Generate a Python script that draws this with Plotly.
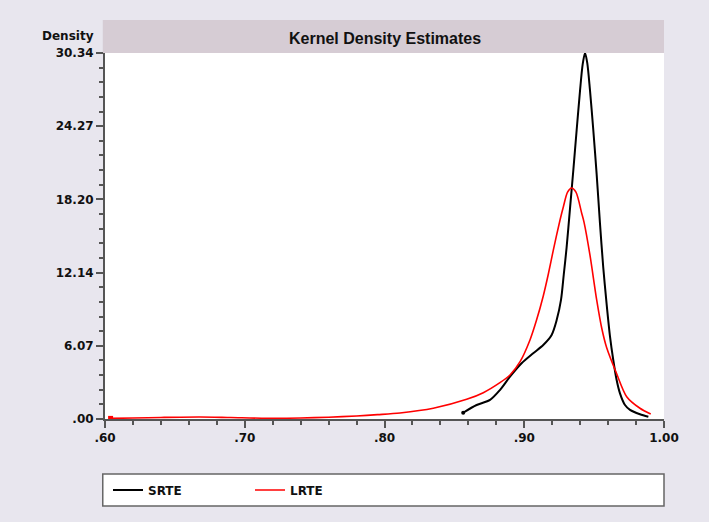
import plotly.graph_objects as go

# ---- data ----
srte_x = [0.8563, 0.8659, 0.8755, 0.8826, 0.8898, 0.8981, 0.9064, 0.9136, 0.9196, 0.9232,
          0.9263, 0.9283, 0.9303, 0.9327, 0.9351, 0.9375, 0.9399, 0.9418, 0.9435, 0.9451,
          0.9470, 0.9494, 0.9518, 0.9542, 0.9565, 0.9589, 0.9613, 0.9637, 0.9660, 0.9685,
          0.9721, 0.9757, 0.9828, 0.9888]
srte_y = [0.52, 1.16, 1.58, 2.40, 3.51, 4.62, 5.45, 6.14, 6.97, 8.2,
          9.87, 12.0, 14.2, 17.4, 20.6, 23.96, 27.2, 29.4, 30.34, 29.5,
          27.3, 23.96, 20.3, 16.2, 12.6, 9.59, 6.9, 4.89, 3.3, 2.13,
          1.16, 0.75, 0.39, 0.19]

lrte_x = [0.604, 0.620, 0.640, 0.668, 0.690, 0.716, 0.740, 0.760, 0.780, 0.795,
          0.8111, 0.8349, 0.8588, 0.8707, 0.8826, 0.8898, 0.8970, 0.9041, 0.9088, 0.9136,
          0.9172, 0.9208, 0.9256, 0.9280, 0.9310, 0.9339, 0.9370, 0.9411, 0.9428, 0.9470,
          0.9518, 0.9555, 0.9590, 0.9660, 0.9733, 0.9828, 0.9905]
lrte_y = [0.05, 0.08, 0.13, 0.17, 0.12, 0.06, 0.08, 0.15, 0.25, 0.36,
          0.50, 0.89, 1.63, 2.18, 3.01, 3.65, 4.75, 6.55, 8.2, 10.2,
          12.0, 14.0, 16.5, 17.6, 18.8, 19.15, 18.8, 17.06, 16.3, 13.6,
          9.9, 7.5, 5.9, 3.79, 1.85, 0.89, 0.41]

x_ticks = [0.60, 0.70, 0.80, 0.90, 1.00]
x_ticktext = [".60", ".70", ".80", ".90", "1.00"]
y_ticks = [0.0, 6.07, 12.14, 18.20, 24.27, 30.34]
y_ticktext = [".00", "6.07", "12.14", "18.20", "24.27", "30.34"]
x_minor = [round(0.60 + 0.02 * i, 4) for i in range(21)]
y_minor = [30.34 * i / 25 for i in range(26)]

title = "Kernel Density Estimates"
y_title = "Density"
series_names = ["SRTE", "LRTE"]

FONT = "DejaVu Sans, Liberation Sans, sans-serif"
TFONT = "Liberation Sans, Arial, sans-serif"
BG = "#e8e6ee"
BAND = "#d6ccd4"
AX = "#555555"
TXT = "#111111"

fig = go.Figure()
fig.add_trace(go.Scatter(
    x=srte_x, y=srte_y, name=series_names[0], mode="lines",
    line=dict(color="black", width=2, shape="spline", smoothing=0.8),
))
fig.add_trace(go.Scatter(
    x=lrte_x, y=lrte_y, name=series_names[1], mode="lines",
    line=dict(color="#ff0000", width=1.6, shape="spline", smoothing=0.8),
))
# start-point markers
fig.add_trace(go.Scatter(
    x=[srte_x[0]], y=[srte_y[0]], mode="markers", showlegend=False, hoverinfo="skip",
    marker=dict(size=4, color="black"),
))
fig.add_trace(go.Scatter(
    x=[lrte_x[0]], y=[lrte_y[0]], mode="markers", showlegend=False, hoverinfo="skip",
    marker=dict(size=5, color="#ff0000", symbol="square"),
))

fig.update_layout(
    width=709, height=522,
    margin=dict(l=105, r=45, t=53, b=103),
    paper_bgcolor=BG, plot_bgcolor="white",
    font=dict(family=FONT, size=12, color=TXT),
    showlegend=True,
    legend=dict(orientation="h", x=(108 - 105) / 559, xanchor="left",
                y=-(490 - 419) / 366, yanchor="middle",
                bgcolor="rgba(0,0,0,0)", borderwidth=0, entrywidth=97,
                font=dict(family=FONT, size=12, color=TXT, weight="bold")),
    xaxis=dict(range=[0.60, 1.00], tickmode="array", tickvals=x_ticks, ticktext=x_ticktext,
               ticks="outside", ticklen=7, tickwidth=1.5, tickcolor=AX,
               showline=True, linecolor=AX, linewidth=2, showgrid=False, zeroline=False,
               tickfont=dict(family=FONT, size=12, weight="bold", color=TXT),
               minor=dict(tickmode="array", tickvals=x_minor, ticks="outside", ticklen=4,
                          tickwidth=1.5, tickcolor=AX, showgrid=False)),
    yaxis=dict(range=[0, 30.34], tickmode="array", tickvals=y_ticks, ticktext=y_ticktext,
               ticks="outside", ticklen=7, tickwidth=1.5, tickcolor=AX,
               showline=True, linecolor=AX, linewidth=2, showgrid=False, zeroline=False,
               tickfont=dict(family=FONT, size=12, weight="bold", color=TXT),
               minor=dict(tickmode="array", tickvals=y_minor, ticks="outside", ticklen=4,
                          tickwidth=1.5, tickcolor=AX, showgrid=False)),
    shapes=[
        dict(type="rect", xref="paper", yref="paper", x0=-0.004, x1=1.0,
             y0=1.0, y1=1.0 + 33 / 366, fillcolor=BAND, line=dict(width=0), layer="below"),
        dict(type="rect", xref="paper", yref="paper", x0=-0.004, x1=1.0,
             y0=-(474 - 419) / 366, y1=-(506 - 419) / 366,
             fillcolor="white", line=dict(color="#666666", width=1.5), layer="below"),
    ],
    annotations=[
        dict(text="<b>" + title + "</b>", xref="paper", yref="paper", x=0.5,
             y=1.0 + 15 / 366, showarrow=False, font=dict(family=TFONT, size=16, color=TXT),
             xanchor="center", yanchor="middle"),
        dict(text="<b>" + y_title + "</b>", xref="paper", yref="paper", x=0, xshift=-9,
             y=1.0 + 17 / 366, showarrow=False, font=dict(family=FONT, size=12, color=TXT),
             xanchor="right", yanchor="middle"),
    ],
)

fig.write_html("out.html", config={"displayModeBar": False},
               post_script="document.body.style.margin='0px';"
                           "document.body.style.background='" + BG + "';")
